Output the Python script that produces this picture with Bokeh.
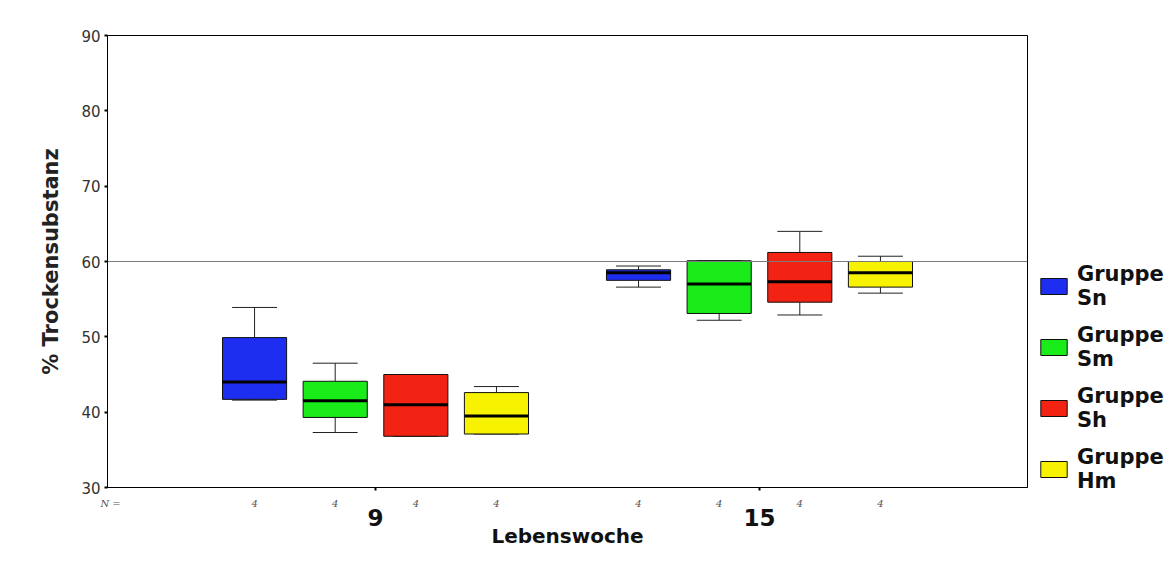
from bokeh.plotting import figure
from bokeh.models import (Range1d, FixedTicker, Span, Legend, LegendItem,
                          ColumnDataSource, LinearAxis)
from bokeh.embed import file_html
from bokeh.resources import INLINE

# ---------------- data ----------------
weeks = ["9", "15"]
groups = ["Sn", "Sm", "Sh", "Hm"]
colors = ["#1e2ef0", "#1aec1a", "#f22312", "#f7f200"]

# per group: [week 9, week 15]
whisker_low = {"Sn": [41.6, 56.6], "Sm": [37.3, 52.2], "Sh": [36.8, 52.9], "Hm": [37.1, 55.8]}
q1 =          {"Sn": [41.7, 57.5], "Sm": [39.3, 53.1], "Sh": [36.8, 54.6], "Hm": [37.1, 56.6]}
median =      {"Sn": [44.0, 58.5], "Sm": [41.5, 57.0], "Sh": [41.0, 57.3], "Hm": [39.5, 58.5]}
q3 =          {"Sn": [49.9, 58.9], "Sm": [44.1, 60.1], "Sh": [45.0, 61.2], "Hm": [42.6, 60.0]}
whisker_high = {"Sn": [53.9, 59.4], "Sm": [46.5, 60.1], "Sh": [45.0, 64.0], "Hm": [43.4, 60.7]}
n_counts =    {"Sn": [4, 4], "Sm": [4, 4], "Sh": [4, 4], "Hm": [4, 4]}
reference_line = 60
y_ticks = [30, 40, 50, 60, 70, 80, 90]

# ---------------- layout constants ----------------
week_pos = [1, 2]
group_step = 0.21
box_w = 0.167
cap_w = 0.117
n_label_pos = 0.31

BOLD_FONT = "DejaVu Sans"

p = figure(frame_width=920, frame_height=452, output_backend="svg", toolbar_location=None,
           x_range=Range1d(0.302, 2.698), y_range=Range1d(30, 90),
           min_border_left=107, min_border_right=140, min_border_top=35, min_border_bottom=20)
p.background_fill_color = "white"
p.border_fill_color = "white"
p.grid.visible = False
p.outline_line_color = "black"
p.outline_line_width = 1

legend_items = []
n_ticks, n_labels = [], {}
for gi, g in enumerate(groups):
    off = (gi - (len(groups) - 1) / 2) * group_step
    xs = [w + off for w in week_pos]
    src = ColumnDataSource(dict(
        x=xs,
        x0=[x - box_w / 2 for x in xs], x1=[x + box_w / 2 for x in xs],
        c0=[x - cap_w / 2 for x in xs], c1=[x + cap_w / 2 for x in xs],
        low=whisker_low[g], q1=q1[g], med=median[g], q3=q3[g], high=whisker_high[g],
    ))
    p.segment(x0="x", y0="q3", x1="x", y1="high", source=src, line_color="#222222", line_width=1)
    p.segment(x0="x", y0="low", x1="x", y1="q1", source=src, line_color="#222222", line_width=1)
    p.segment(x0="c0", y0="high", x1="c1", y1="high", source=src, line_color="#222222", line_width=1)
    p.segment(x0="c0", y0="low", x1="c1", y1="low", source=src, line_color="#222222", line_width=1)
    r = p.vbar(x="x", width=box_w, bottom="q1", top="q3", source=src,
               fill_color=colors[gi], line_color="#111111", line_width=1)
    p.segment(x0="x0", y0="med", x1="x1", y1="med", source=src, line_color="black", line_width=3)
    legend_items.append(LegendItem(label="Gruppe\n" + g, renderers=[r]))
    for x, n in zip(xs, n_counts[g]):
        n_ticks.append(x)
        n_labels[x] = str(n)

p.add_layout(Span(location=reference_line, dimension="width", line_color="#7a7a7a", line_width=1))

# y axis
ya = p.yaxis[0]
ya.ticker = FixedTicker(ticks=y_ticks)
ya.axis_label = "% Trockensubstanz"
ya.axis_label_text_font = BOLD_FONT
ya.axis_label_text_font_style = "bold"
ya.axis_label_text_font_size = "21px"
ya.axis_label_text_color = "#222222"
ya.axis_label_standoff = 15
ya.major_label_text_font = "DejaVu Sans"
ya.major_label_text_font_size = "15px"
ya.major_label_text_color = "#333333"
ya.major_label_standoff = 4
ya.major_tick_out = 3
ya.major_tick_in = 0
ya.major_tick_line_width = 2
ya.minor_tick_out = 0
ya.minor_tick_in = 0
ya.axis_line_color = "black"

# x axis 1 (closest to frame): N row, minor ticks mark the weeks
xa = p.xaxis[0]
xa.ticker = FixedTicker(ticks=[n_label_pos] + n_ticks, minor_ticks=week_pos)
n_labels[n_label_pos] = "N ="
xa.major_label_overrides = n_labels
xa.major_label_text_font = "DejaVu Serif"
xa.major_label_text_font_style = "italic"
xa.major_label_text_font_size = "10px"
xa.major_label_text_color = "#555555"
xa.major_label_standoff = 7
xa.major_tick_out = 0
xa.major_tick_in = 0
xa.minor_tick_out = 3
xa.minor_tick_in = 0
xa.minor_tick_line_width = 2
xa.minor_tick_line_color = "black"
xa.axis_line_color = "black"

# x axis 2: week labels and title
xb = LinearAxis(ticker=FixedTicker(ticks=week_pos, minor_ticks=[]),
                major_label_overrides={week_pos[i]: weeks[i] for i in range(len(weeks))})
xb.axis_line_color = None
xb.major_tick_line_color = None
xb.minor_tick_line_color = None
xb.major_label_text_font = BOLD_FONT
xb.major_label_text_font_style = "bold"
xb.major_label_text_font_size = "23px"
xb.major_label_text_color = "#111111"
xb.major_label_standoff = -3
xb.major_tick_out = 0
xb.major_tick_in = 0
xb.axis_label = "Lebenswoche"
xb.axis_label_text_font = BOLD_FONT
xb.axis_label_text_font_style = "bold"
xb.axis_label_text_font_size = "20px"
xb.axis_label_text_color = "#111111"
xb.axis_label_standoff = -5
p.add_layout(xb, "below")

legend = Legend(items=legend_items, location=(10, -6), orientation="vertical",
                border_line_color=None, background_fill_alpha=0, padding=0, margin=0,
                glyph_width=33, glyph_height=20, label_standoff=7, spacing=13,
                label_text_font=BOLD_FONT, label_text_font_style="bold",
                label_text_font_size="21px", label_text_line_height=1.2,
                label_text_color="#111111")
p.add_layout(legend, "right")

open("out.html", "w").write(file_html(p, INLINE))
